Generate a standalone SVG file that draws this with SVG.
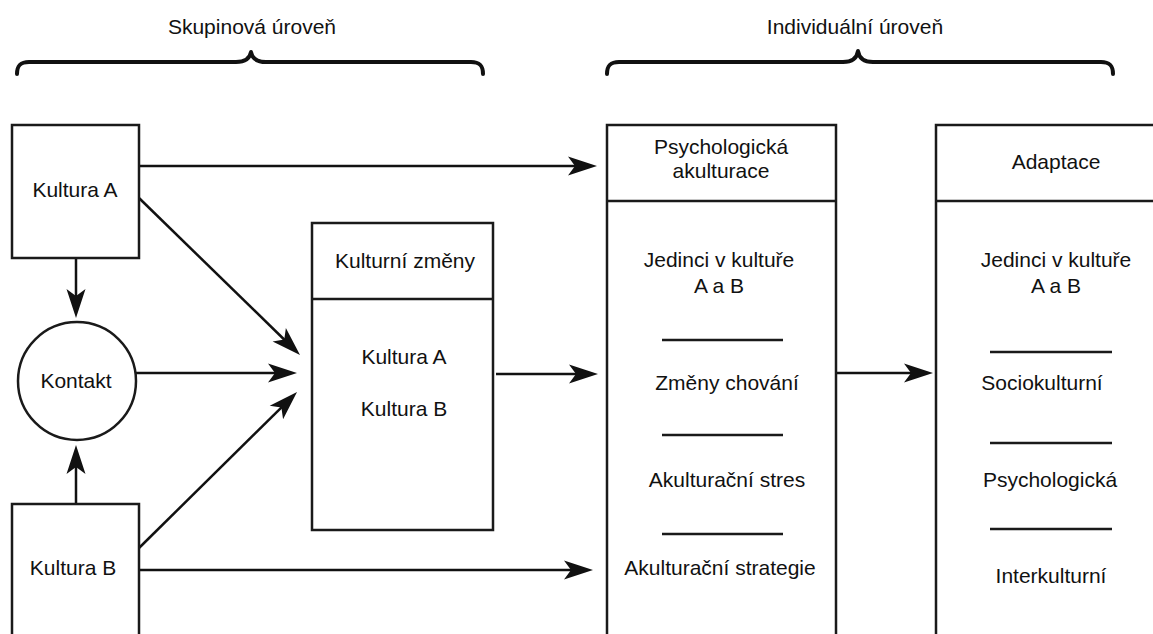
<svg xmlns="http://www.w3.org/2000/svg" width="1153" height="634" viewBox="0 0 1153 634">
  <style>
    .box { fill: #fff; stroke: #1a1a1a; stroke-width: 2.5; }
    .sep { stroke: #1a1a1a; stroke-width: 2.5; fill: none; }
    .brace { fill: none; stroke: #111; stroke-width: 4; stroke-linejoin: round; stroke-linecap: round; }
    .edge { stroke: #111; stroke-width: 2.5; fill: none; marker-end: url(#arrow); }
    text { font-family: "Liberation Sans", Arial, sans-serif; font-size: 21px; fill: #111; text-anchor: middle; }
  </style>
  <defs>
    <!-- notched arrowhead; the line stops at the notch, the tip sits 20px further on -->
    <marker id="arrow" viewBox="-10 -10 32 20" refX="0" refY="0" markerWidth="32" markerHeight="20" markerUnits="userSpaceOnUse" orient="auto">
      <path d="M20,0 L-9,-9.5 L-2,0 L-9,9.5 Z" fill="#111"/>
    </marker>
  </defs>
  <rect width="1153" height="634" fill="#fff"/>

  <!-- level headings with braces -->
  <g id="group-level">
    <text x="252" y="34">Skupinová úroveň</text>
    <path class="brace" d="M17,74 C17,66 20,62 29,62 L236,62 C245,62 250,58 251,52 C252,58 257,62 266,62 L471,62 C480,62 483,66 483,74"/>
  </g>
  <g id="individual-level">
    <text x="855" y="34">Individuální úroveň</text>
    <path class="brace" d="M607,74 C607,66 610,62 619,62 L843,62 C852,62 857,58 858,51 C859,58 864,62 873,62 L1101,62 C1110,62 1113,66 1113,74"/>
  </g>

  <!-- connectors -->
  <g id="connectors">
    <line class="edge" x1="139" y1="166" x2="577" y2="166"/>
    <line class="edge" x1="139" y1="198" x2="285.7" y2="341"/>
    <line class="edge" x1="136" y1="373" x2="277" y2="373"/>
    <line class="edge" x1="139" y1="548" x2="282.8" y2="406.1"/>
    <line class="edge" x1="139" y1="570" x2="573" y2="570"/>
    <line class="edge" x1="76" y1="258" x2="76" y2="298"/>
    <line class="edge" x1="76" y1="504" x2="76" y2="465"/>
    <line class="edge" x1="496" y1="374" x2="578" y2="374"/>
    <line class="edge" x1="836" y1="373" x2="913" y2="373"/>
  </g>

  <g id="kultura-a">
    <rect class="box" x="12" y="125" width="127" height="133"/>
    <text x="75" y="197">Kultura A</text>
  </g>

  <g id="kontakt">
    <circle class="box" cx="77" cy="381" r="59"/>
    <text x="76" y="388">Kontakt</text>
  </g>

  <g id="kultura-b">
    <rect class="box" x="12" y="504" width="127" height="140"/>
    <text x="73" y="575">Kultura B</text>
  </g>

  <g id="kulturni-zmeny">
    <rect class="box" x="312" y="223" width="181" height="307"/>
    <line class="sep" x1="312" y1="299" x2="493" y2="299"/>
    <text x="405" y="268">Kulturní změny</text>
    <text x="404" y="364">Kultura A</text>
    <text x="404" y="416">Kultura B</text>
  </g>

  <g id="psychologicka-akulturace">
    <rect class="box" x="607" y="125" width="229" height="520"/>
    <line class="sep" x1="607" y1="201" x2="836" y2="201"/>
    <text x="721" y="154">Psychologická</text>
    <text x="721" y="178">akulturace</text>
    <text x="719" y="267">Jedinci v kultuře</text>
    <text x="719" y="293">A a B</text>
    <line class="sep" x1="662" y1="340" x2="783" y2="340"/>
    <text x="727" y="390">Změny chování</text>
    <line class="sep" x1="662" y1="435" x2="783" y2="435"/>
    <text x="727" y="487">Akulturační stres</text>
    <line class="sep" x1="662" y1="534" x2="783" y2="534"/>
    <text x="720" y="575">Akulturační strategie</text>
  </g>

  <g id="adaptace">
    <rect class="box" x="936" y="125" width="240" height="520"/>
    <line class="sep" x1="936" y1="201" x2="1176" y2="201"/>
    <text x="1056" y="169">Adaptace</text>
    <text x="1056" y="267">Jedinci v kultuře</text>
    <text x="1056" y="293">A a B</text>
    <line class="sep" x1="990" y1="352" x2="1112" y2="352"/>
    <text x="1042" y="390">Sociokulturní</text>
    <line class="sep" x1="990" y1="443" x2="1112" y2="443"/>
    <text x="1050" y="487">Psychologická</text>
    <line class="sep" x1="990" y1="529" x2="1112" y2="529"/>
    <text x="1051" y="583">Interkulturní</text>
  </g>
</svg>
